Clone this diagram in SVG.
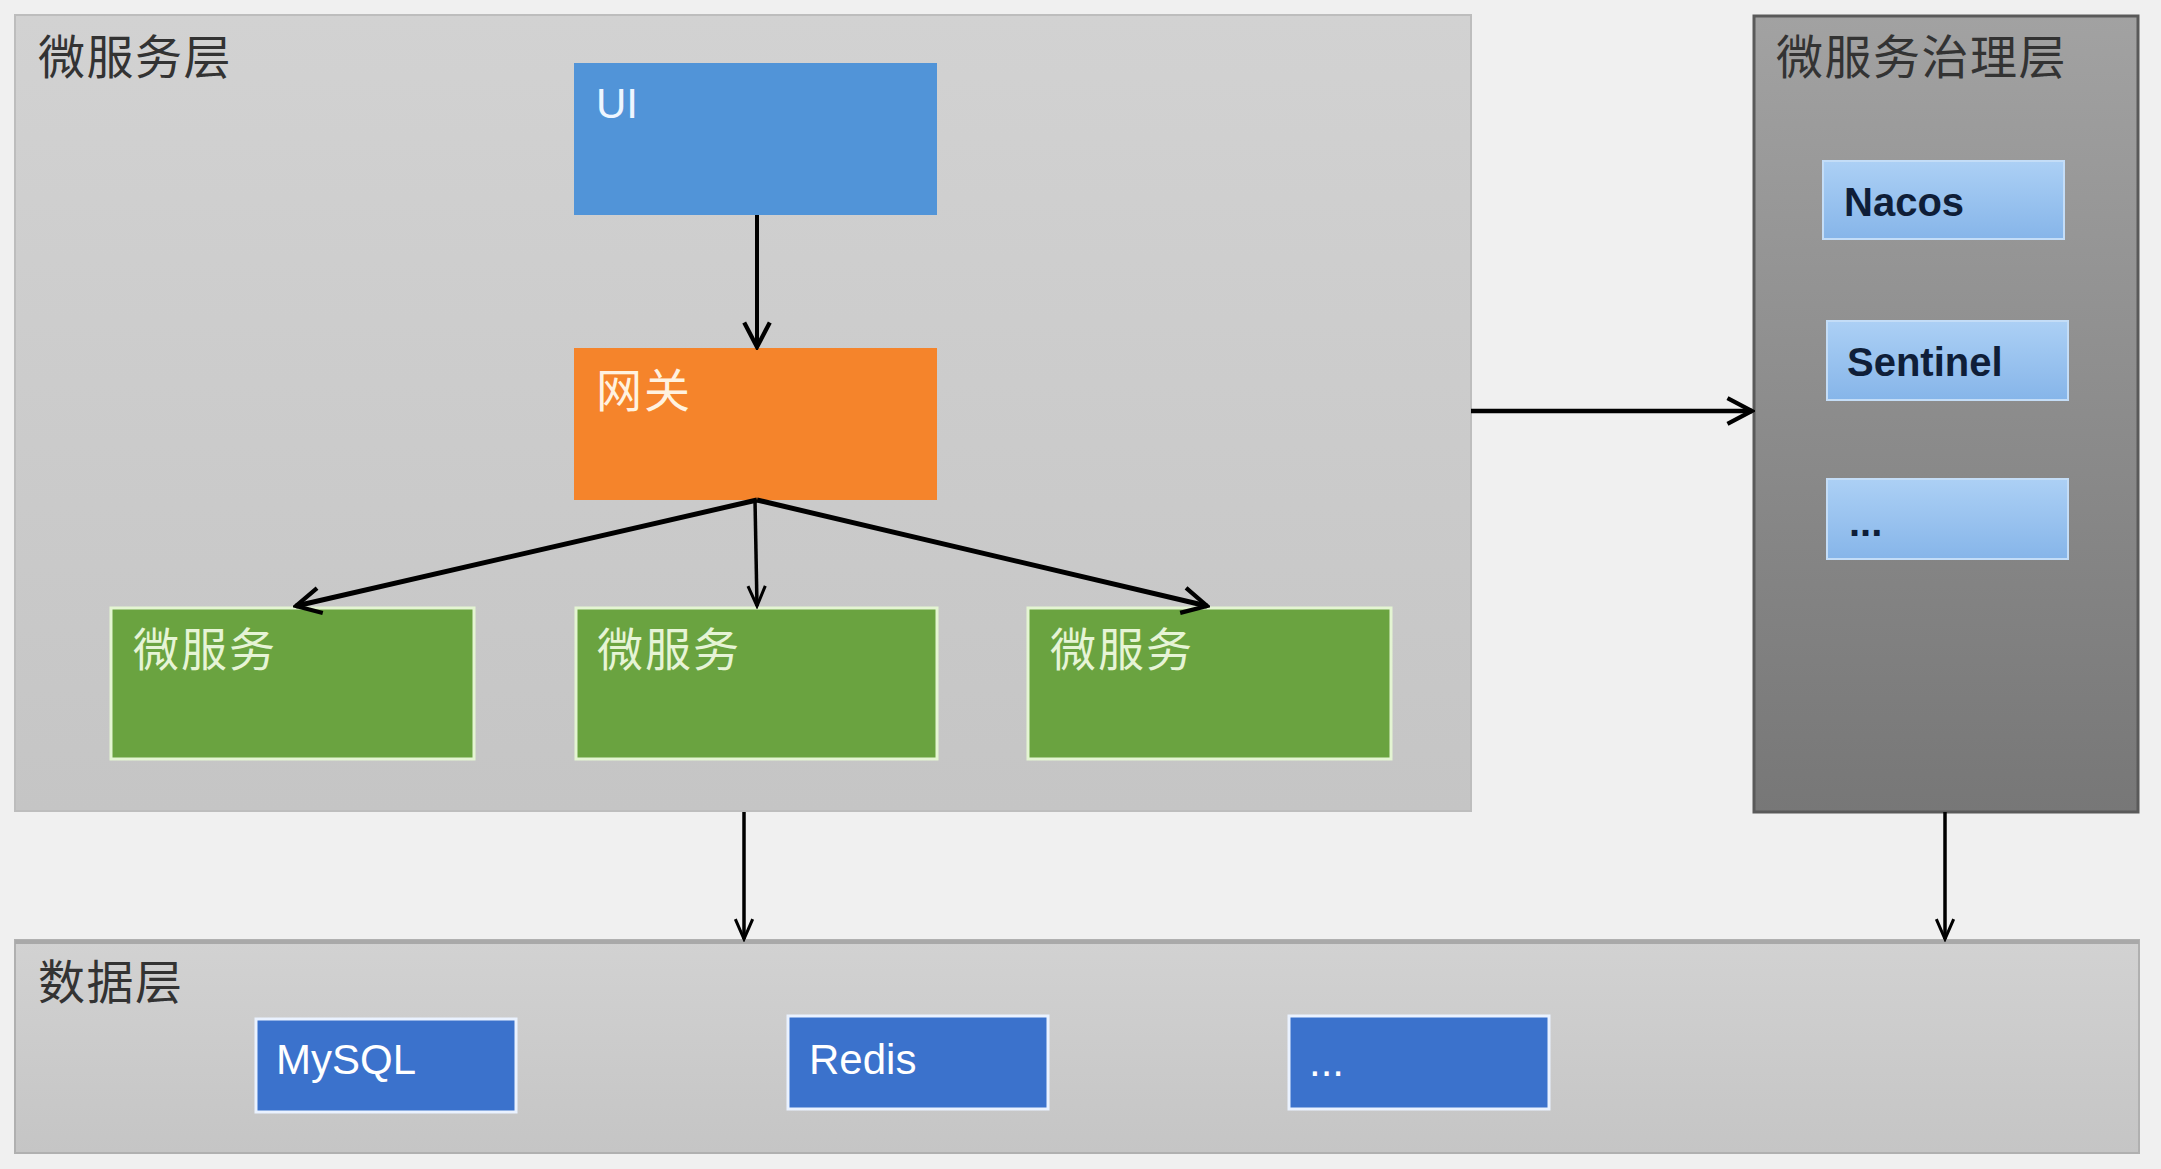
<svg xmlns="http://www.w3.org/2000/svg" width="2161" height="1169" viewBox="0 0 2161 1169">
<defs>
<style>
.cjk{font-family:"Noto Sans CJK SC","Noto Sans",sans-serif;font-size:46px;letter-spacing:2px;}
.lat{font-family:"Liberation Sans",Arial,sans-serif;font-size:42px;}
.gov{font-size:40px;font-weight:bold;fill:#0f1e38;}
.title{fill:#333333;font-size:47px;letter-spacing:1.5px;}
.conn{stroke:#000;fill:none;stroke-linecap:butt;}
</style>
<linearGradient id="gLayer" x1="0" y1="0" x2="0" y2="1">
<stop offset="0" stop-color="#d2d2d2"/><stop offset="1" stop-color="#c5c5c5"/>
</linearGradient>
<linearGradient id="gGov" x1="0" y1="0" x2="0" y2="1">
<stop offset="0" stop-color="#a2a2a2"/><stop offset="0.5" stop-color="#8c8c8c"/><stop offset="1" stop-color="#777777"/>
</linearGradient>
<linearGradient id="gLight" x1="0" y1="0" x2="0" y2="1">
<stop offset="0" stop-color="#acd0f5"/><stop offset="1" stop-color="#86b5e9"/>
</linearGradient>
<marker id="ah" viewBox="0 0 30 30" refX="27" refY="15" markerWidth="32" markerHeight="32" markerUnits="userSpaceOnUse" orient="auto">
<path d="M4,3 L27,15 L4,27" fill="none" stroke="#000" stroke-width="4" stroke-linejoin="miter"/>
</marker>
<marker id="ahs" viewBox="0 0 30 30" refX="27" refY="15" markerWidth="26" markerHeight="26" markerUnits="userSpaceOnUse" orient="auto">
<path d="M4,5 L27,15 L4,25" fill="none" stroke="#000" stroke-width="3.5"/>
</marker>
</defs>
<rect x="0" y="0" width="2161" height="1169" fill="#f0f0f0"/>

<g id="layer-micro">
<rect x="15" y="15" width="1456" height="796" fill="url(#gLayer)" stroke="#bdbdbd" stroke-width="2"/>
<text class="cjk title" x="38" y="74">微服务层</text>
</g>

<g id="layer-gov">
<rect x="1754" y="16" width="384" height="796" fill="url(#gGov)" stroke="#5a5a5a" stroke-width="3"/>
<text class="cjk title" x="1776" y="74">微服务治理层</text>
</g>

<g id="layer-data">
<rect x="15" y="940" width="2124" height="213" fill="url(#gLayer)" stroke="#b0b0b0" stroke-width="2"/>
<rect x="15" y="940" width="2124" height="4" fill="#a9a9a9"/>
<text class="cjk title" x="38" y="999">数据层</text>
</g>

<g id="node-ui">
<rect x="574" y="63" width="363" height="152" fill="#5194d8"/>
<text class="lat" x="596" y="118" fill="#eef6ff">UI</text>
</g>

<g id="node-gateway">
<rect x="574" y="348" width="363" height="152" fill="#f5842b"/>
<text class="cjk" x="596" y="407" fill="#fff2e0">网关</text>
</g>

<g id="node-ms1">
<rect x="111" y="608" width="363" height="151" fill="#6aa340" stroke="#e4f5d2" stroke-width="3"/>
<text class="cjk" x="133" y="666" fill="#e6f4d6">微服务</text>
</g>
<g id="node-ms2">
<rect x="576" y="608" width="361" height="151" fill="#6aa340" stroke="#e4f5d2" stroke-width="3"/>
<text class="cjk" x="597" y="666" fill="#e6f4d6">微服务</text>
</g>
<g id="node-ms3">
<rect x="1028" y="608" width="363" height="151" fill="#6aa340" stroke="#e4f5d2" stroke-width="3"/>
<text class="cjk" x="1050" y="666" fill="#e6f4d6">微服务</text>
</g>

<g id="node-nacos">
<rect x="1823" y="161" width="241" height="78" fill="url(#gLight)" stroke="#c4ddf7" stroke-width="2"/>
<text class="lat gov" x="1844" y="216">Nacos</text>
</g>
<g id="node-sentinel">
<rect x="1827" y="321" width="241" height="79" fill="url(#gLight)" stroke="#c4ddf7" stroke-width="2"/>
<text class="lat gov" x="1847" y="376">Sentinel</text>
</g>
<g id="node-gov-more">
<rect x="1827" y="479" width="241" height="80" fill="url(#gLight)" stroke="#c4ddf7" stroke-width="2"/>
<text class="lat gov" x="1849" y="536">...</text>
</g>

<g id="node-mysql">
<rect x="256" y="1019" width="260" height="93" fill="#3b72cc" stroke="#eaf2ff" stroke-width="3"/>
<text class="lat" x="276" y="1074" font-size="40" fill="#ffffff">MySQL</text>
</g>
<g id="node-redis">
<rect x="788" y="1016" width="260" height="93" fill="#3b72cc" stroke="#eaf2ff" stroke-width="3"/>
<text class="lat" x="809" y="1074" font-size="40" fill="#ffffff">Redis</text>
</g>
<g id="node-data-more">
<rect x="1289" y="1016" width="260" height="93" fill="#3b72cc" stroke="#eaf2ff" stroke-width="3"/>
<text class="lat" x="1309" y="1076" font-size="40" fill="#ffffff">...</text>
</g>

<g id="connectors">
<line class="conn" x1="757" y1="215" x2="757" y2="347" stroke-width="4" marker-end="url(#ah)"/>
<line class="conn" x1="757" y1="500" x2="296" y2="606" stroke-width="5" marker-end="url(#ah)"/>
<line class="conn" x1="755" y1="500" x2="757" y2="606" stroke-width="3.5" marker-end="url(#ahs)"/>
<line class="conn" x1="757" y1="500" x2="1207" y2="606" stroke-width="5" marker-end="url(#ah)"/>
<line class="conn" x1="1471" y1="411" x2="1752" y2="411" stroke-width="4.5" marker-end="url(#ah)"/>
<line class="conn" x1="744" y1="812" x2="744" y2="939" stroke-width="3.5" marker-end="url(#ahs)"/>
<line class="conn" x1="1945" y1="812" x2="1945" y2="939" stroke-width="3.5" marker-end="url(#ahs)"/>
</g>
</svg>
